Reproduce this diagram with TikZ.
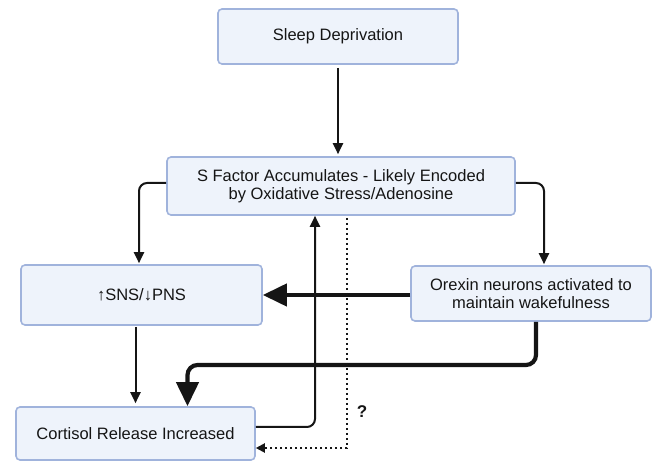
\documentclass[tikz,border=0pt]{standalone}
\usepackage{fontspec}
\setmainfont{Liberation Sans}
\usetikzlibrary{arrows.meta}
\definecolor{boxfill}{HTML}{EEF3FB}
\definecolor{boxline}{HTML}{A0B3DC}
\definecolor{ink}{HTML}{151515}
\begin{document}
\begin{tikzpicture}[x=1pt,y=-1pt,
  box/.style={draw=boxline, fill=boxfill, rounded corners=4pt, line width=1.6pt, inner sep=0pt, align=center, text=ink, font=\fontsize{16.5}{18}\selectfont},
  thinarrow/.style={line width=2pt, draw=ink, -{Triangle[length=11pt,width=10pt]}},
  thickarrow/.style={line width=4.2pt, draw=ink, -{Triangle[length=24pt,width=22pt]}},
  dotarrow/.style={line width=2pt, draw=ink, dash pattern=on 2.5pt off 2.5pt, -{Triangle[length=9pt,width=9pt]}}]
\useasboundingbox (0,0) rectangle (654,462);
\node[box, minimum width=240pt, minimum height=55pt] (sd) at (338,36.5) {Sleep Deprivation};
\node[box, minimum width=348pt, minimum height=58pt] (sf) at (341,186) {S Factor Accumulates - Likely Encoded\\by Oxidative Stress/Adenosine};
\node[box, minimum width=241pt, minimum height=60pt] (sns) at (141.5,295) {↑SNS/↓PNS};
\node[box, minimum width=240pt, minimum height=55pt] (ox) at (531,293.5) {Orexin neurons activated to\\maintain wakefulness};
\node[box, minimum width=239pt, minimum height=53pt] (co) at (135.5,433.5) {Cortisol Release Increased};
\coordinate (k1) at (187.5,365);
\coordinate (up) at (315,0);
\coordinate (dd) at (347,0);
\node[font=\bfseries\fontsize{17}{19}\selectfont, text=ink] (q) at (362,412) {?};
% arrows
\draw[thinarrow, shorten <=3pt, shorten >=2pt] (sd.south) -- (sd.south |- sf.north);
\draw[thinarrow, rounded corners=8pt, shorten >=1pt] ([yshift=3pt]sf.west) -| ([xshift=-2.5pt]sns.north);
\draw[thinarrow, rounded corners=8pt, shorten >=1pt] ([yshift=3pt]sf.east) -| ([xshift=13pt]ox.north);
\draw[thickarrow] (ox.west |- sns.east) -- (sns.east);
\draw[thinarrow, shorten <=1pt, shorten >=3pt] (sns.south -| co.north) -- (co.north);
\draw[thickarrow, rounded corners=10pt] ([xshift=5pt]ox.south) |- (k1) -- (k1 |- co.north);
\draw[thinarrow, rounded corners=8pt] ([yshift=6.5pt]co.east) -| (up |- sf.south);
\draw[dotarrow] ([yshift=-2pt]dd |- sf.south) |- ([yshift=-14.5pt]co.east);
\end{tikzpicture}
\end{document}
